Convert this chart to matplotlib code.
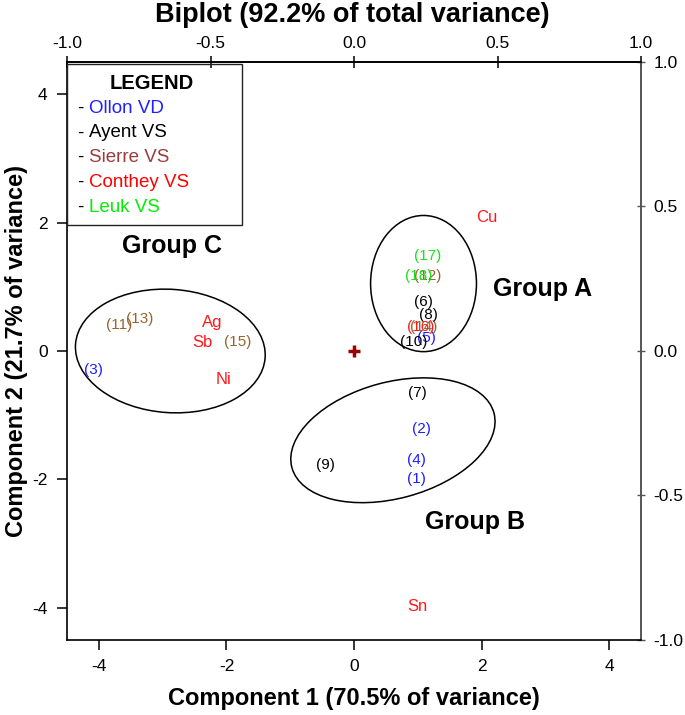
import matplotlib
matplotlib.use("Agg")
import matplotlib.pyplot as plt
from matplotlib.patches import Ellipse, Rectangle

plt.rcParams['font.family'] = ['Liberation Sans', 'DejaVu Sans']
plt.rcParams['axes.unicode_minus'] = False

# sample scores (component 1, component 2) per site
ollon_labels = ['(1)', '(2)', '(3)', '(4)', '(5)']
ollon_x = [0.98, 1.05, -4.09, 0.98, 1.13]
ollon_y = [-2.00, -1.22, -0.30, -1.70, 0.20]

ayent_labels = ['(6)', '(7)', '(8)', '(9)', '(10)']
ayent_x = [1.09, 1.00, 1.16, -0.45, 0.94]
ayent_y = [0.77, -0.66, 0.56, -1.78, 0.14]

sierre_labels = ['(11)', '(12)', '(13)', '(14)', '(15)']
sierre_x = [-3.69, 1.16, -3.36, 1.10, -1.83]
sierre_y = [0.41, 1.16, 0.50, 0.38, 0.14]

conthey_labels = ['(16)']
conthey_x = [1.05]
conthey_y = [0.38]

leuk_labels = ['(17)', '(18)']
leuk_x = [1.16, 1.02]
leuk_y = [1.48, 1.16]

# variable loadings (elements)
elements = ['Cu', 'Sn', 'Ag', 'Sb', 'Ni']
elem_x = [2.09, 1.00, -2.23, -2.38, -2.05]
elem_y = [2.08, -3.98, 0.44, 0.13, -0.44]

# groups: name, label position, ellipse centre, width, height, angle
group_names = ['Group A', 'Group B', 'Group C']
group_label_x = [2.95, 1.89, -2.86]
group_label_y = [0.97, -2.66, 1.63]
ell_cx = [1.09, 0.61, -2.88]
ell_cy = [1.05, -1.39, 0.00]
ell_w = [1.66, 3.28, 2.98]
ell_h = [2.12, 1.81, 1.92]
ell_angle = [0, 15, -4]

legend_names = ['Ollon VD', 'Ayent VS', 'Sierre VS', 'Conthey VS', 'Leuk VS']
legend_colors = ['#1f1fff', '#000000', '#993c3c', '#ff0000', '#00f000']

blue = '#1f1fff'
black = '#000000'
brown = '#99632f'
red = '#ff1a1a'
green = '#1be01b'

fig = plt.figure(figsize=(6.85, 7.15), dpi=100)
ax = fig.add_axes([0.0978, 0.1049, 0.838, 0.8084])
ax.set_xlim(-4.5, 4.5)
ax.set_ylim(-4.5, 4.5)

for labels, xs, ys, c in [(ollon_labels, ollon_x, ollon_y, blue),
                          (ayent_labels, ayent_x, ayent_y, black),
                          (sierre_labels, sierre_x, sierre_y, brown),
                          (conthey_labels, conthey_x, conthey_y, red),
                          (leuk_labels, leuk_x, leuk_y, green)]:
    for lab, x, y in zip(labels, xs, ys):
        ax.text(x, y, lab, color=c, fontsize=11, ha='center', va='center')

for lab, x, y in zip(elements, elem_x, elem_y):
    ax.text(x, y, lab, color=red, fontsize=12, ha='center', va='center')

for i in range(len(group_names)):
    ax.add_patch(Ellipse((ell_cx[i], ell_cy[i]), ell_w[i], ell_h[i], angle=ell_angle[i],
                         fill=False, edgecolor='black', lw=1.1))
    ax.text(group_label_x[i], group_label_y[i], group_names[i], fontsize=18,
            fontweight='bold', ha='center', va='center')

ax.plot([0], [0], marker='+', color='#990000', markersize=9, mew=2.5)

ax.set_xticks([-4, -2, 0, 2, 4])
ax.set_yticks([-4, -2, 0, 2, 4])
ax.tick_params(direction='out', length=7, width=1.1, labelsize=12.5, pad=7)
for s in ['left', 'bottom', 'top']:
    ax.spines[s].set_linewidth(1.2)
ax.spines['right'].set_color('#555555')
ax.spines['right'].set_linewidth(1.2)

top = ax.secondary_xaxis('top', functions=(lambda v: v / 4.5, lambda v: v * 4.5))
top.set_xticks([-1.0, -0.5, 0.0, 0.5, 1.0])
top.set_xticklabels(['-1.0', '-0.5', '0.0', '0.5', '1.0'])
top.tick_params(direction='inout', length=8, width=1.1, labelsize=12.5, pad=4)
top.spines['top'].set_linewidth(1.2)

right = ax.secondary_yaxis('right', functions=(lambda v: v / 4.5, lambda v: v * 4.5))
right.set_yticks([-1.0, -0.5, 0.0, 0.5, 1.0])
right.set_yticklabels(['-1.0', '-0.5', '0.0', '0.5', '1.0'])
right.tick_params(direction='inout', length=6, width=1.0, color='#555555', labelsize=12.5, pad=6)
right.spines['right'].set_color('#555555')
right.spines['right'].set_linewidth(1.2)

ax.set_xlabel('Component 1 (70.5% of variance)', fontsize=17, fontweight='bold')
ax.xaxis.set_label_coords(0.5, -0.082)
ax.set_ylabel('Component 2 (21.7% of variance)', fontsize=17, fontweight='bold')
ax.yaxis.set_label_coords(-0.068, 0.5)
fig.suptitle('Biplot (92.2% of total variance)', fontsize=19.5, fontweight='bold', y=0.997, x=0.515)

# legend box
ax.add_patch(Rectangle((0.0, 0.718), 0.305, 0.278, transform=ax.transAxes, fill=False,
                       edgecolor='#222222', lw=1.0, zorder=5))
ax.text(0.148, 0.963, 'LEGEND', transform=ax.transAxes, fontsize=14.5, fontweight='bold',
        ha='center', va='center')
for i, (name, c) in enumerate(zip(legend_names, legend_colors)):
    yy = 0.920 - i * 0.0428
    ax.text(0.017, yy, '-', transform=ax.transAxes, fontsize=13.5, ha='left', va='center')
    ax.text(0.038, yy, name, transform=ax.transAxes, fontsize=13.5, color=c,
            ha='left', va='center')

fig.savefig('out.png', dpi=100)
